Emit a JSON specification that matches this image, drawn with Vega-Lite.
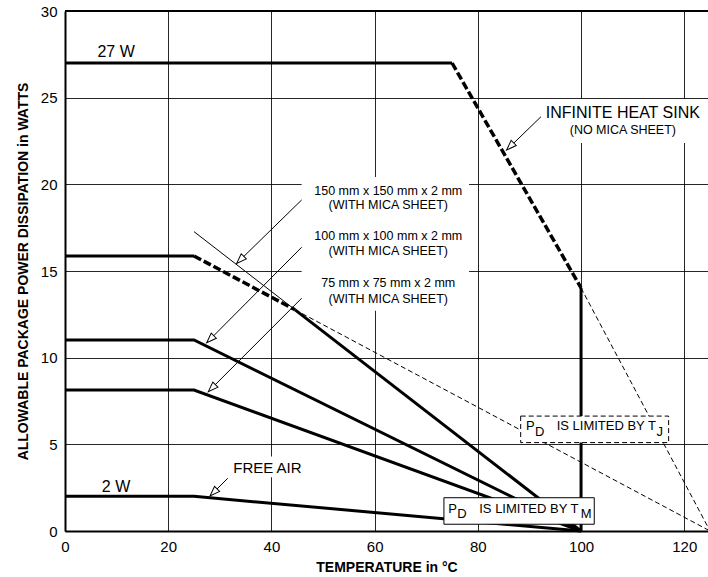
{
  "$schema": "https://vega.github.io/schema/vega-lite/v6.json",
  "width": 643,
  "height": 520,
  "autosize": {"type": "none"},
  "padding": {"left": 65, "top": 11, "right": 0, "bottom": 46},
  "background": "white",
  "config": {
    "view": {"stroke": null},
    "font": "Liberation Sans",
    "axis": {
      "domainColor": "#000",
      "domainWidth": 2,
      "gridColor": "#000",
      "gridWidth": 1,
      "gridOpacity": 0.85,
      "ticks": false,
      "labelFont": "Liberation Sans",
      "labelFontSize": 15,
      "labelColor": "#000",
      "labelFlush": false,
      "labelOverlap": false,
      "titleFont": "Liberation Sans",
      "titleFontSize": 14,
      "titleFontWeight": "bold",
      "titleColor": "#000"
    }
  },
  "datasets": {
    "curves": [
      {"path": "inf-a", "type": "rated", "o": 0, "x": 0, "y": 27},
      {"path": "inf-a", "type": "rated", "o": 1, "x": 75, "y": 27},
      {"path": "inf-b", "type": "TJ limit", "o": 0, "x": 75, "y": 27},
      {"path": "inf-b", "type": "TJ limit", "o": 1, "x": 100, "y": 14.02},
      {"path": "inf-c", "type": "rated", "o": 0, "x": 100, "y": 14.02},
      {"path": "inf-c", "type": "rated", "o": 1, "x": 100, "y": 0},
      {"path": "inf-d", "type": "TJ extension", "o": 0, "x": 100, "y": 14.02},
      {"path": "inf-d", "type": "TJ extension", "o": 1, "x": 125, "y": 0},
      {"path": "m150-a", "type": "rated", "o": 0, "x": 0, "y": 15.87},
      {"path": "m150-a", "type": "rated", "o": 1, "x": 25, "y": 15.87},
      {"path": "m150-b", "type": "TJ limit", "o": 0, "x": 25, "y": 15.87},
      {"path": "m150-b", "type": "TJ limit", "o": 1, "x": 44.59, "y": 12.76},
      {"path": "m150-c", "type": "rated", "o": 0, "x": 44.59, "y": 12.76},
      {"path": "m150-c", "type": "rated", "o": 1, "x": 100, "y": 0},
      {"path": "m150-d", "type": "TM extension", "o": 0, "x": 25, "y": 17.27},
      {"path": "m150-d", "type": "TM extension", "o": 1, "x": 44.59, "y": 12.76},
      {"path": "m150-e", "type": "TJ extension", "o": 0, "x": 44.59, "y": 12.76},
      {"path": "m150-e", "type": "TJ extension", "o": 1, "x": 125, "y": 0},
      {"path": "m100", "type": "rated", "o": 0, "x": 0, "y": 11.02},
      {"path": "m100", "type": "rated", "o": 1, "x": 25, "y": 11.02},
      {"path": "m100", "type": "rated", "o": 2, "x": 100, "y": 0},
      {"path": "m75", "type": "rated", "o": 0, "x": 0, "y": 8.13},
      {"path": "m75", "type": "rated", "o": 1, "x": 25, "y": 8.13},
      {"path": "m75", "type": "rated", "o": 2, "x": 100, "y": 0},
      {"path": "free", "type": "rated", "o": 0, "x": 0, "y": 2},
      {"path": "free", "type": "rated", "o": 1, "x": 25, "y": 2},
      {"path": "free", "type": "rated", "o": 2, "x": 100, "y": 0}
    ],
    "boxes": [
      {"name": "mica labels", "border": "none", "x": 45.86, "x2": 78.3, "y": 12.7, "y2": 20.42},
      {"name": "infinite label", "border": "none", "x": 92.23, "x2": 124.6, "y": 22.38, "y2": 24.92},
      {"name": "free air label", "border": "none", "x": 32.2, "x2": 46.4, "y": 3.1, "y2": 4.3},
      {"name": "TM note", "border": "solid", "x": 73.43, "x2": 102.56, "y": 0.39, "y2": 1.92},
      {"name": "TJ note", "border": "dashed", "x": 88.3, "x2": 116.97, "y": 5.1, "y2": 6.63}
    ],
    "arrows": [
      {"label": "150 mm", "x": 45.86, "y": 19.1, "xt": 33.27, "yt": 15.44},
      {"label": "100 mm", "x": 45.86, "y": 16.37, "xt": 27.46, "yt": 10.86},
      {"label": "75 mm", "x": 45.86, "y": 13.43, "xt": 27.77, "yt": 8.04},
      {"label": "free air", "x": 31.53, "y": 3.04, "xt": 28.1, "yt": 2.02},
      {"label": "infinite", "x": 92.23, "y": 23.9, "xt": 85.58, "yt": 21.98}
    ],
    "notes": [
      {"group": "rating", "text": "27 W", "x": 9.9, "y": 27.33},
      {"group": "rating", "text": "2 W", "x": 9.9, "y": 2.27},
      {"group": "rating", "text": "INFINITE HEAT SINK", "x": 108.1, "y": 23.81},
      {"group": "left", "text": "FREE AIR", "x": 32.6, "y": 3.33},
      {"group": "caption", "text": "(NO MICA SHEET)", "x": 108.1, "y": 22.9},
      {"group": "caption", "text": "150 mm x 150 mm x 2 mm", "x": 62.64, "y": 19.4},
      {"group": "caption", "text": "(WITH MICA SHEET)", "x": 62.64, "y": 18.6},
      {"group": "caption", "text": "100 mm x 100 mm x 2 mm", "x": 62.64, "y": 16.8},
      {"group": "caption", "text": "(WITH MICA SHEET)", "x": 62.64, "y": 15.9},
      {"group": "caption", "text": "75 mm x 75 mm x 2 mm", "x": 62.64, "y": 14.07},
      {"group": "caption", "text": "(WITH MICA SHEET)", "x": 62.64, "y": 13.15},
      {"group": "box", "text": "P", "x": 74.27, "y": 1.05},
      {"group": "box", "text": "D", "x": 76.01, "y": 0.75},
      {"group": "box", "text": "IS LIMITED BY T", "x": 80.27, "y": 1.05},
      {"group": "box", "text": "M", "x": 99.92, "y": 0.75},
      {"group": "box", "text": "P", "x": 89.32, "y": 5.83},
      {"group": "box", "text": "D", "x": 91.07, "y": 5.5},
      {"group": "box", "text": "IS LIMITED BY T", "x": 95.27, "y": 5.83},
      {"group": "box", "text": "J", "x": 114.6, "y": 5.5}
    ]
  },
  "layer": [
    {
      "data": {"name": "curves"},
      "transform": [{"filter": "datum.type === 'rated'"}],
      "mark": {"type": "line", "color": "#000", "strokeWidth": 3},
      "encoding": {
        "x": {
          "field": "x", "type": "quantitative",
          "scale": {"domain": [0, 124.6], "nice": false, "zero": false},
          "axis": {"values": [0, 20, 40, 60, 80, 100, 120], "title": "TEMPERATURE in °C", "grid": true, "labelPadding": 8, "titlePadding": 6}
        },
        "y": {
          "field": "y", "type": "quantitative",
          "scale": {"domain": [0, 30], "nice": false},
          "axis": {"values": [0, 5, 10, 15, 20, 25, 30], "title": "ALLOWABLE PACKAGE POWER DISSIPATION in WATTS", "grid": true, "labelPadding": 8, "titlePadding": 10}
        },
        "detail": {"field": "path"},
        "order": {"field": "o"}
      }
    },
    {
      "data": {"name": "curves"},
      "transform": [{"filter": "datum.type === 'TJ limit'"}],
      "mark": {"type": "line", "color": "#000", "strokeWidth": 3.5, "strokeDash": [8, 3]},
      "encoding": {
        "x": {"field": "x", "type": "quantitative"},
        "y": {"field": "y", "type": "quantitative"},
        "detail": {"field": "path"},
        "order": {"field": "o"}
      }
    },
    {
      "data": {"name": "curves"},
      "transform": [{"filter": "datum.type === 'TM extension'"}],
      "mark": {"type": "line", "color": "#000", "strokeWidth": 1},
      "encoding": {
        "x": {"field": "x", "type": "quantitative"},
        "y": {"field": "y", "type": "quantitative"},
        "detail": {"field": "path"},
        "order": {"field": "o"}
      }
    },
    {
      "data": {"name": "curves"},
      "transform": [{"filter": "datum.type === 'TJ extension'"}],
      "mark": {"type": "line", "color": "#000", "strokeWidth": 1, "strokeDash": [5, 3]},
      "encoding": {
        "x": {"field": "x", "type": "quantitative"},
        "y": {"field": "y", "type": "quantitative"},
        "detail": {"field": "path"},
        "order": {"field": "o"}
      }
    },
    {
      "data": {"values": [{}]},
      "mark": {"type": "rule", "color": "#000", "strokeWidth": 2},
      "encoding": {"y": {"datum": 30}}
    },
    {
      "data": {"name": "boxes"},
      "transform": [{"filter": "datum.border === 'none'"}],
      "mark": {"type": "rect", "fill": "white", "strokeWidth": 0},
      "encoding": {
        "x": {"field": "x", "type": "quantitative"},
        "x2": {"field": "x2"},
        "y": {"field": "y", "type": "quantitative"},
        "y2": {"field": "y2"}
      }
    },
    {
      "data": {"name": "arrows"},
      "mark": {"type": "rule", "color": "#000", "strokeWidth": 1},
      "encoding": {
        "x": {"field": "x", "type": "quantitative"},
        "y": {"field": "y", "type": "quantitative"},
        "x2": {"field": "xt"},
        "y2": {"field": "yt"}
      }
    },
    {
      "data": {"name": "arrows"},
      "mark": {"type": "point", "shape": "M0,0 L0.36,1 L-0.36,1 Z", "size": 400, "angle": 225, "filled": true, "fill": "white", "fillOpacity": 1, "stroke": "#000", "strokeWidth": 1, "opacity": 1},
      "encoding": {
        "x": {"field": "xt", "type": "quantitative"},
        "y": {"field": "yt", "type": "quantitative"}
      }
    },
    {
      "data": {"name": "boxes"},
      "transform": [{"filter": "datum.border === 'solid'"}],
      "mark": {"type": "rect", "fill": "white", "stroke": "#000", "strokeWidth": 1},
      "encoding": {
        "x": {"field": "x", "type": "quantitative"},
        "x2": {"field": "x2"},
        "y": {"field": "y", "type": "quantitative"},
        "y2": {"field": "y2"}
      }
    },
    {
      "data": {"name": "boxes"},
      "transform": [{"filter": "datum.border === 'dashed'"}],
      "mark": {"type": "rect", "fill": "white", "stroke": "#000", "strokeWidth": 1, "strokeDash": [5, 3]},
      "encoding": {
        "x": {"field": "x", "type": "quantitative"},
        "x2": {"field": "x2"},
        "y": {"field": "y", "type": "quantitative"},
        "y2": {"field": "y2"}
      }
    },
    {
      "data": {"name": "notes"},
      "transform": [{"filter": "datum.group === 'rating'"}],
      "mark": {"type": "text", "font": "Liberation Sans", "fontSize": 16, "align": "center", "baseline": "alphabetic", "color": "#000"},
      "encoding": {
        "x": {"field": "x", "type": "quantitative"},
        "y": {"field": "y", "type": "quantitative"},
        "text": {"field": "text"}
      }
    },
    {
      "data": {"name": "notes"},
      "transform": [{"filter": "datum.group === 'left'"}],
      "mark": {"type": "text", "font": "Liberation Sans", "fontSize": 15, "align": "left", "baseline": "alphabetic", "color": "#000"},
      "encoding": {
        "x": {"field": "x", "type": "quantitative"},
        "y": {"field": "y", "type": "quantitative"},
        "text": {"field": "text"}
      }
    },
    {
      "data": {"name": "notes"},
      "transform": [{"filter": "datum.group === 'caption'"}],
      "mark": {"type": "text", "font": "Liberation Sans", "fontSize": 12.5, "align": "center", "baseline": "alphabetic", "color": "#000"},
      "encoding": {
        "x": {"field": "x", "type": "quantitative"},
        "y": {"field": "y", "type": "quantitative"},
        "text": {"field": "text"}
      }
    },
    {
      "data": {"name": "notes"},
      "transform": [{"filter": "datum.group === 'box'"}],
      "mark": {"type": "text", "font": "Liberation Sans", "fontSize": 13, "align": "left", "baseline": "alphabetic", "color": "#000"},
      "encoding": {
        "x": {"field": "x", "type": "quantitative"},
        "y": {"field": "y", "type": "quantitative"},
        "text": {"field": "text"}
      }
    }
  ]
}
